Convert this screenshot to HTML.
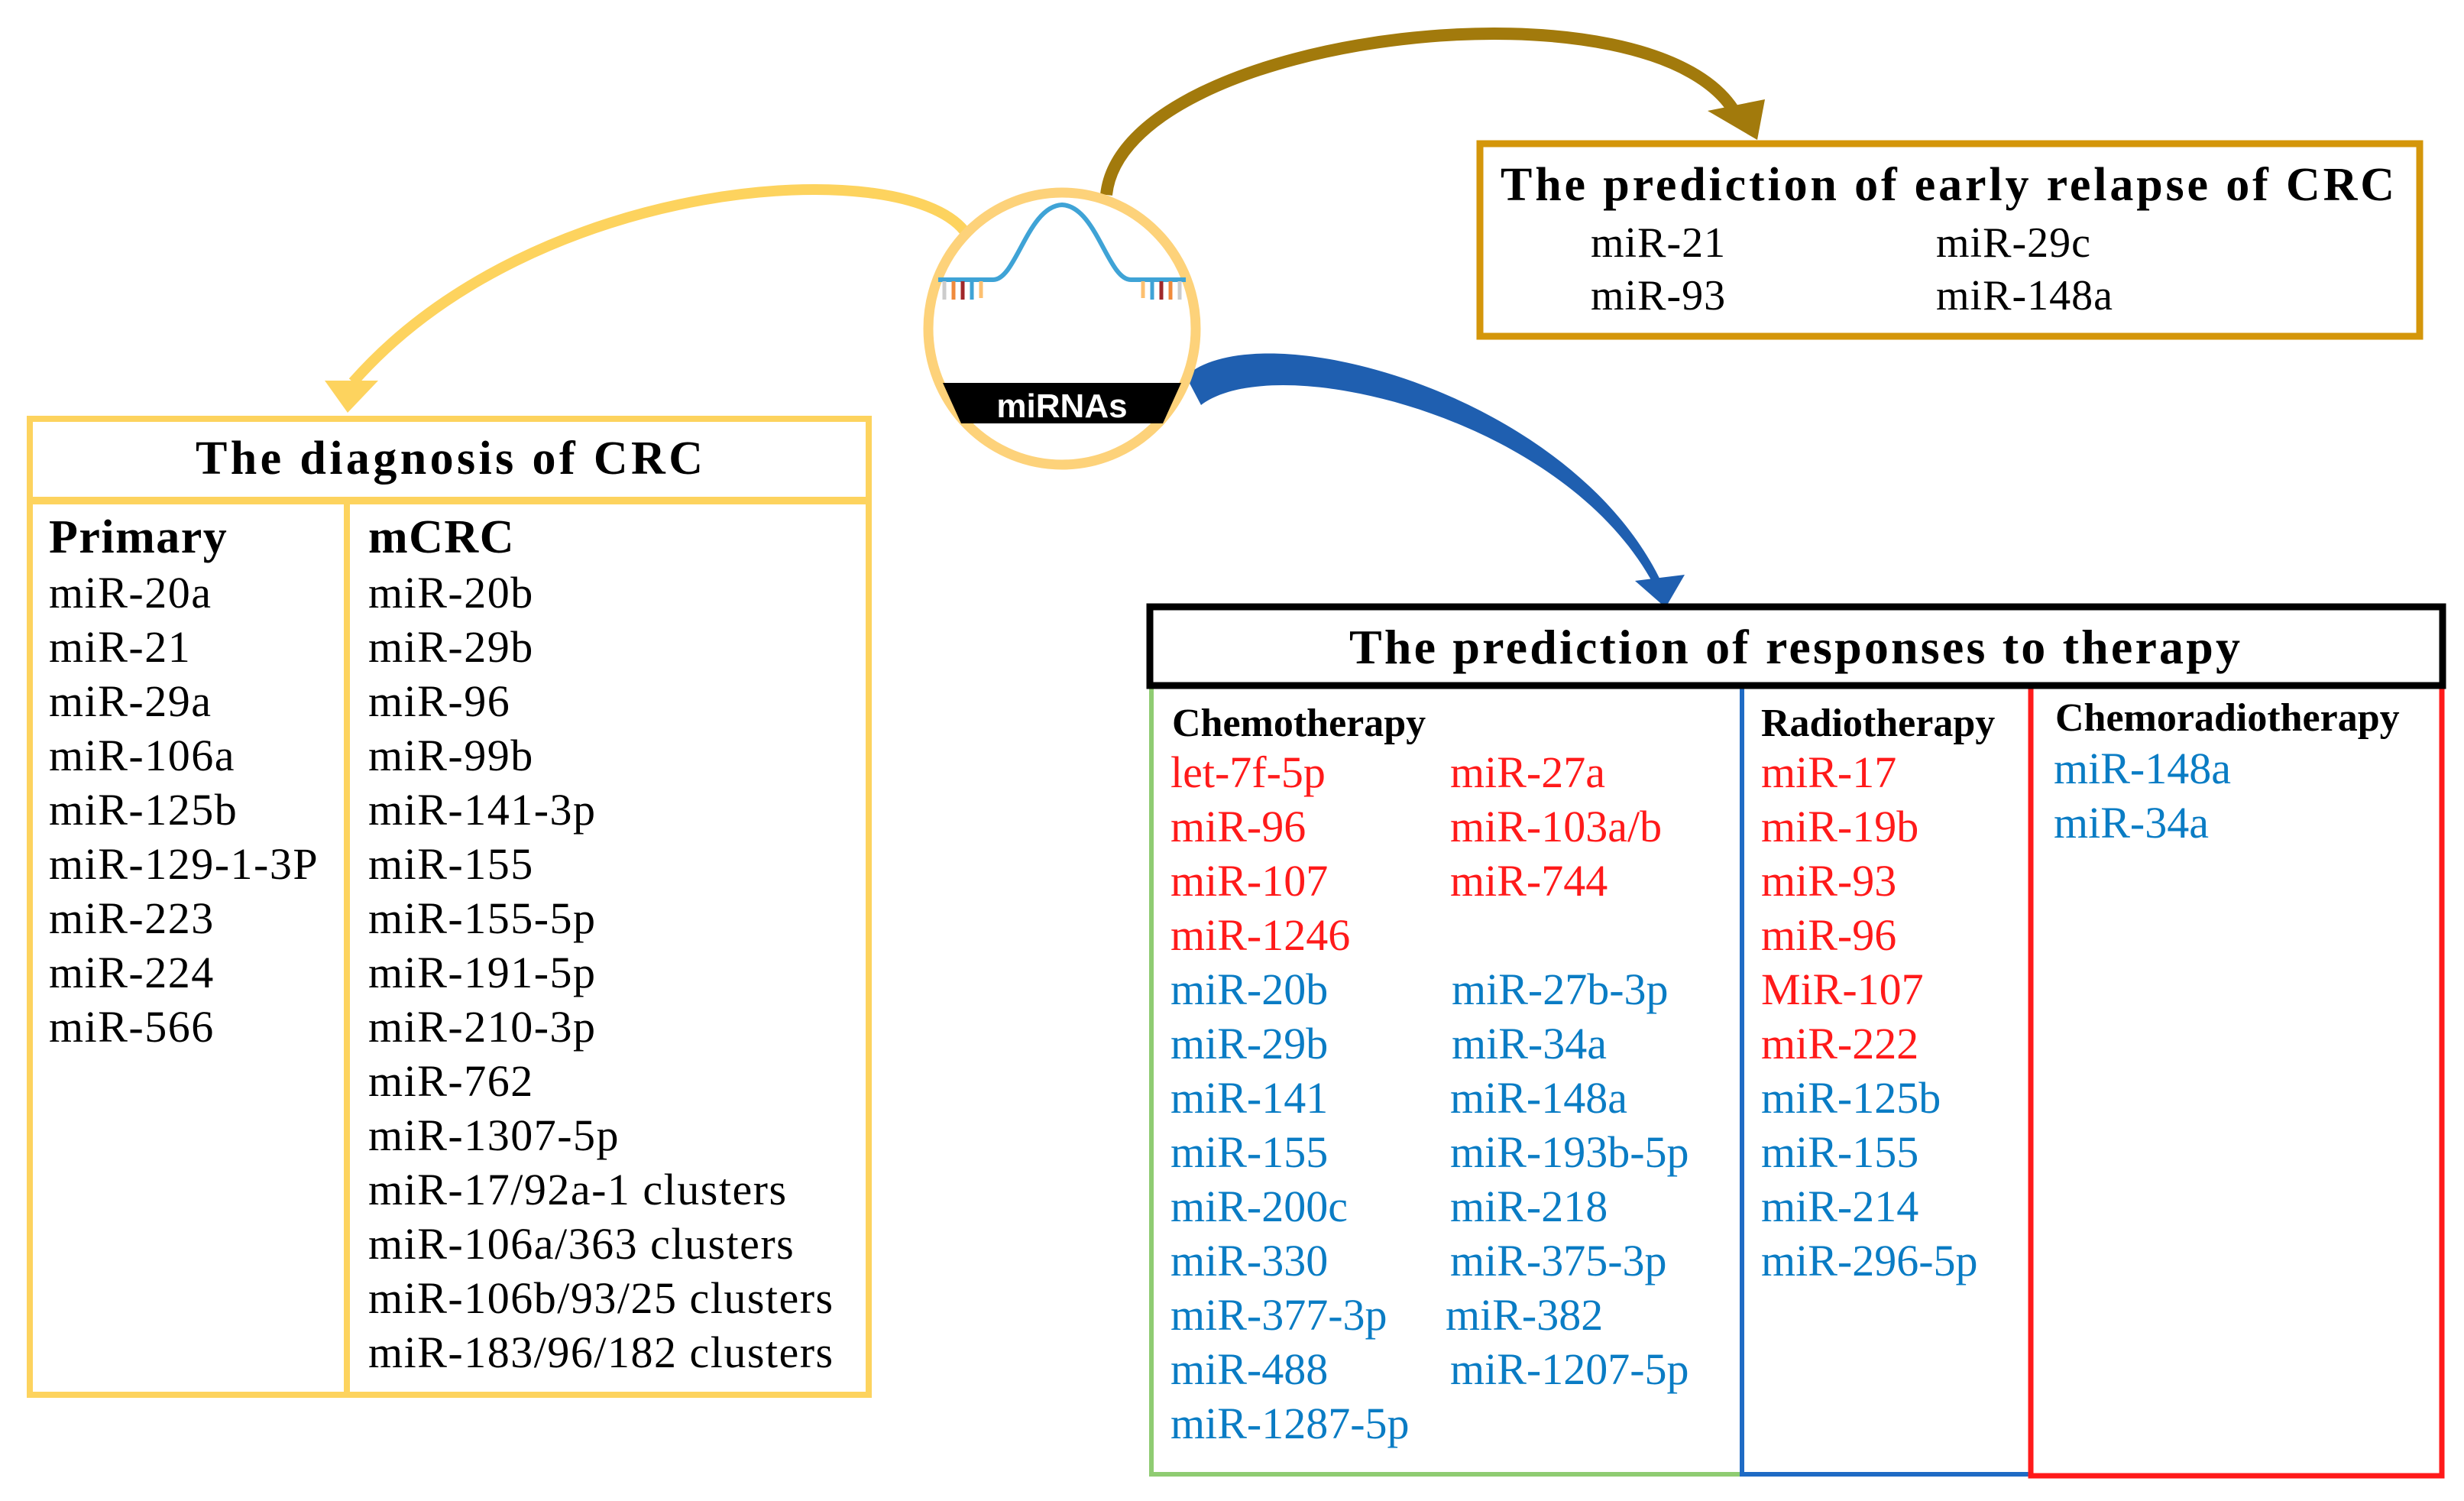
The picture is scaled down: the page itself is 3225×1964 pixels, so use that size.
<!DOCTYPE html>
<html><head><meta charset="utf-8"><style>
html,body{margin:0;padding:0;background:#fff}
svg{display:block}
text{font-family:"Liberation Serif",serif}
</style></head><body>
<svg width="3225" height="1964" viewBox="0 0 3225 1964" xmlns="http://www.w3.org/2000/svg">
<!-- arrows -->
<path d="M1262,302 C1180,200 700,230 462,500" fill="none" stroke="#fdd35e" stroke-width="14"/>
<polygon points="425,498 495,498 455,540" fill="#fdd35e"/>
<path d="M1448,255 C1470,40 2180,-40 2275,155" fill="none" stroke="#a27a0c" stroke-width="16"/>
<polygon points="2235,145 2310,130 2300,183" fill="#a27a0c"/>
<path d="M1552,492 C1650,405 2060,515 2176,765 L2166,768 C2050,545 1670,455 1572,530 Z" fill="#1f5fb0"/>
<polygon points="2140,760 2205,752 2180,795" fill="#1f5fb0"/>

<!-- circle -->
<ellipse cx="1390" cy="430" rx="175" ry="178" fill="#fff" stroke="#fdd27a" stroke-width="13"/>
<path d="M1228,366 L1300,366 C1330,366 1345,270 1390,268 C1435,270 1450,366 1480,366 L1552,366" fill="none" stroke="#3fa3d6" stroke-width="6"/>
<g stroke-width="5">
<line x1="1236" y1="368" x2="1236" y2="392" stroke="#ccc"/><line x1="1248" y1="368" x2="1248" y2="392" stroke="#f08a3c"/><line x1="1260" y1="368" x2="1260" y2="392" stroke="#a0282a"/><line x1="1272" y1="368" x2="1272" y2="392" stroke="#3fa3d6"/><line x1="1284" y1="368" x2="1284" y2="390" stroke="#fdc070"/>
<line x1="1496" y1="368" x2="1496" y2="390" stroke="#fdc070"/><line x1="1508" y1="368" x2="1508" y2="392" stroke="#3fa3d6"/><line x1="1520" y1="368" x2="1520" y2="392" stroke="#a0282a"/><line x1="1532" y1="368" x2="1532" y2="392" stroke="#f08a3c"/><line x1="1544" y1="368" x2="1544" y2="392" stroke="#ccc"/>
</g>
<path d="M1234,501 L1546,501 L1522,554 L1258,554 Z" fill="#000"/>
<text x="1390" y="546" text-anchor="middle" style="font-family:'Liberation Sans',sans-serif" font-weight="bold" font-size="44" fill="#fff">miRNAs</text>

<!-- diagnosis box -->
<rect x="39" y="548" width="1098" height="1277" fill="none" stroke="#fdd35e" stroke-width="8"/>
<line x1="39" y1="655" x2="1137" y2="655" stroke="#fdd35e" stroke-width="10"/>
<line x1="454" y1="655" x2="454" y2="1825" stroke="#fdd35e" stroke-width="8"/>
<text x="256" y="620" font-size="62" font-weight="bold" textLength="664" lengthAdjust="spacing">The diagnosis of CRC</text>
<g font-size="58" letter-spacing="1.5">
<text x="64" y="723" font-weight="bold" font-size="62">Primary</text>
<text x="64" y="795">miR-20a</text><text x="64" y="866">miR-21</text><text x="64" y="937">miR-29a</text><text x="64" y="1008">miR-106a</text><text x="64" y="1079">miR-125b</text><text x="64" y="1150">miR-129-1-3P</text><text x="64" y="1221">miR-223</text><text x="64" y="1292">miR-224</text><text x="64" y="1363">miR-566</text>
<text x="482" y="723" font-weight="bold" font-size="62">mCRC</text>
<text x="482" y="795">miR-20b</text><text x="482" y="866">miR-29b</text><text x="482" y="937">miR-96</text><text x="482" y="1008">miR-99b</text><text x="482" y="1079">miR-141-3p</text><text x="482" y="1150">miR-155</text><text x="482" y="1221">miR-155-5p</text><text x="482" y="1292">miR-191-5p</text><text x="482" y="1363">miR-210-3p</text><text x="482" y="1434">miR-762</text><text x="482" y="1505">miR-1307-5p</text><text x="482" y="1576">miR-17/92a-1 clusters</text><text x="482" y="1647">miR-106a/363 clusters</text><text x="482" y="1718">miR-106b/93/25 clusters</text><text x="482" y="1789">miR-183/96/182 clusters</text>
</g>

<!-- early relapse -->
<rect x="1937" y="188" width="1230" height="252" fill="none" stroke="#d4960a" stroke-width="9"/>
<text x="1964" y="262" font-size="62" font-weight="bold" textLength="1170" lengthAdjust="spacing">The prediction of early relapse of CRC</text>
<g font-size="56" letter-spacing="1">
<text x="2082" y="336">miR-21</text><text x="2534" y="336">miR-29c</text>
<text x="2082" y="405">miR-93</text><text x="2534" y="405">miR-148a</text>
</g>

<!-- therapy -->
<rect x="1507" y="897" width="773" height="1032" fill="none" stroke="#8fcc72" stroke-width="6"/>
<rect x="2280" y="897" width="378" height="1032" fill="none" stroke="#1f6bc4" stroke-width="6"/>
<rect x="2658" y="897" width="538" height="1034" fill="none" stroke="#ff1a1a" stroke-width="7"/>
<rect x="1505" y="794" width="1692" height="103" fill="#fff" stroke="#000" stroke-width="9"/>
<text x="1766" y="868" font-size="64" font-weight="bold" textLength="1166" lengthAdjust="spacing">The prediction of responses to therapy</text>
<g font-size="52" font-weight="bold">
<text x="1534" y="963">Chemotherapy</text><text x="2305" y="963">Radiotherapy</text><text x="2690" y="956">Chemoradiotherapy</text>
</g>
<g font-size="58" fill="#ff1a1a">
<text x="1532" y="1030">let-7f-5p</text><text x="1898" y="1030">miR-27a</text>
<text x="1532" y="1101">miR-96</text><text x="1898" y="1101">miR-103a/b</text>
<text x="1532" y="1172">miR-107</text><text x="1898" y="1172">miR-744</text>
<text x="1532" y="1243">miR-1246</text>
<text x="2305" y="1030">miR-17</text><text x="2305" y="1101">miR-19b</text><text x="2305" y="1172">miR-93</text><text x="2305" y="1243">miR-96</text><text x="2305" y="1314">MiR-107</text><text x="2305" y="1385">miR-222</text>
</g>
<g font-size="58" fill="#0a7cc4">
<text x="1532" y="1314">miR-20b</text><text x="1900" y="1314">miR-27b-3p</text>
<text x="1532" y="1385">miR-29b</text><text x="1900" y="1385">miR-34a</text>
<text x="1532" y="1456">miR-141</text><text x="1898" y="1456">miR-148a</text>
<text x="1532" y="1527">miR-155</text><text x="1898" y="1527">miR-193b-5p</text>
<text x="1532" y="1598">miR-200c</text><text x="1898" y="1598">miR-218</text>
<text x="1532" y="1669">miR-330</text><text x="1898" y="1669">miR-375-3p</text>
<text x="1532" y="1740">miR-377-3p</text><text x="1892" y="1740">miR-382</text>
<text x="1532" y="1811">miR-488</text><text x="1898" y="1811">miR-1207-5p</text>
<text x="1532" y="1882">miR-1287-5p</text>
<text x="2305" y="1456">miR-125b</text><text x="2305" y="1527">miR-155</text><text x="2305" y="1598">miR-214</text><text x="2305" y="1669">miR-296-5p</text>
<text x="2688" y="1025">miR-148a</text><text x="2688" y="1096">miR-34a</text>
</g>
</svg>
</body></html>
